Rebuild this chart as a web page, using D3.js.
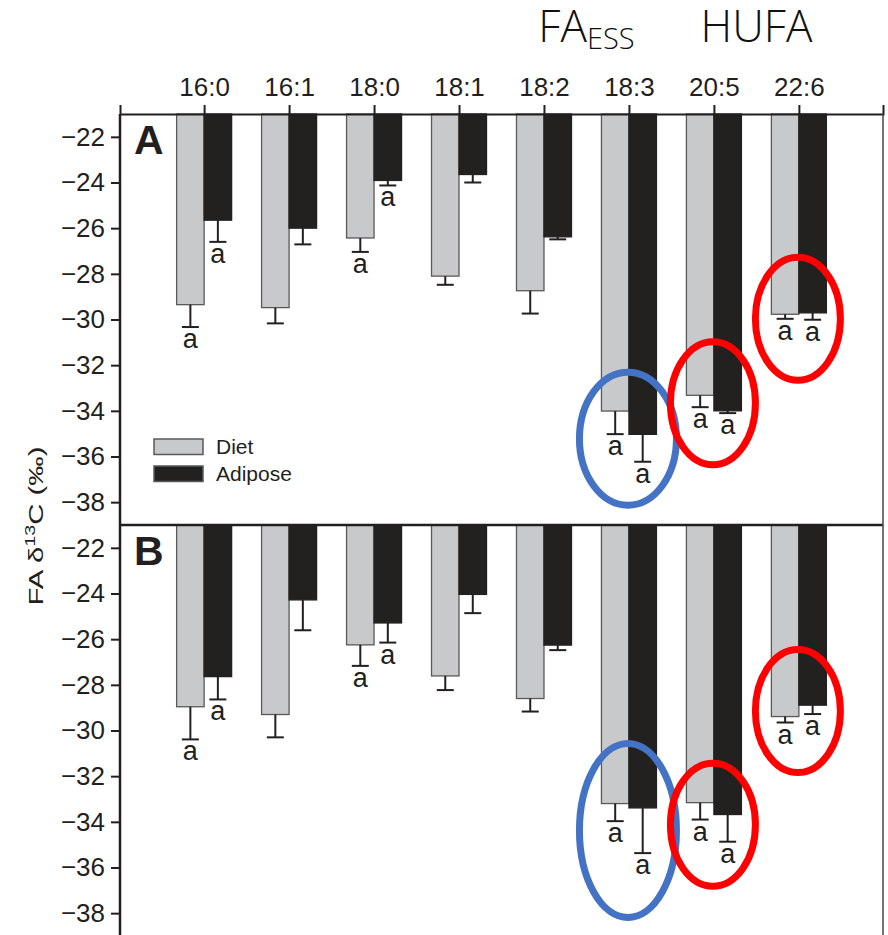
<!DOCTYPE html>
<html>
<head>
<meta charset="utf-8">
<script src="https://cdn.jsdelivr.net/npm/d3@7"></script>
<style>
  body { margin: 0; background: #fff; }
  svg { display: block; font-family: "Liberation Sans", Arial, sans-serif; }
</style>
</head>
<body>
<div id="chart"></div>
<script>
// fatty acids along the top
const cats = ['16:0', '16:1', '18:0', '18:1', '18:2', '18:3', '20:5', '22:6']
const series = ['Diet', 'Adipose']

// panel A means and SE
const dietA = [-29.35, -29.48, -26.43, -28.1, -28.74, -34.01, -33.32, -29.77]
const dietSeA = [0.98, 0.69, 0.61, 0.38, 1.0, 1.01, 0.52, 0.2]
const adiA = [-25.65, -26.0, -23.91, -23.65, -26.38, -35.03, -34.0, -29.71]
const adiSeA = [0.95, 0.71, 0.22, 0.35, 0.11, 1.2, 0.1, 0.3]
const lettersA = ['a', '', 'a', '', '', 'a', 'a', 'a']

// panel B means and SE
const dietB = [-28.96, -29.3, -26.25, -27.61, -28.6, -33.2, -33.16, -29.39]
const dietSeB = [1.43, 1.0, 0.92, 0.62, 0.57, 0.77, 0.74, 0.26]
const adiB = [-27.64, -24.28, -25.29, -24.04, -26.26, -33.39, -33.68, -28.89]
const adiSeB = [1.0, 1.33, 0.86, 0.82, 0.22, 1.98, 1.19, 0.39]
const lettersB = ['a', '', 'a', '', '', 'a', 'a', 'a']

const yTicks = [-22, -24, -26, -28, -30, -32, -34, -36, -38]

// highlight rings: category, centre value, colour
const ringsA = [['18:3', -35.22, '#4472c4'], ['20:5', -33.67, '#ff0000'], ['22:6', -29.97, '#ff0000']]
const ringsB = [['18:3', -34.38, '#4472c4'], ['20:5', -34.13, '#ff0000'], ['22:6', -29.15, '#ff0000']]

const width = 888, height = 935
const plotL = 120, plotR = 883, plotT = 114, plotMid = 525
const ink = '#231f20'

const svg = d3.select('#chart').append('svg')
  .attr('width', width)
  .attr('height', height)

const x = d3.scalePoint().domain(cats).range([plotL, plotR]).padding(0.99)
const inner = d3.scaleBand().domain(series).range([-27.5, 27.5])

const yA = d3.scaleLinear().domain([-21, -39]).range([plotT, plotMid])
const yB = d3.scaleLinear().domain([-21, -39]).range([plotMid, plotMid + (plotMid - plotT)])

let drawPanel = (y, diet, dietSe, adi, adiSe, letters, rings, name) => {
  const g = svg.append('g')
  const rows = []
  cats.forEach((c, i) => {
    rows.push({ c, s: 'Diet', v: diet[i], se: dietSe[i], l: letters[i] })
    rows.push({ c, s: 'Adipose', v: adi[i], se: adiSe[i], l: letters[i] })
  })

  g.selectAll('rect.bar')
    .data(rows)
    .enter()
    .append('rect')
    .attr('class', 'bar')
    .attr('x', d => x(d.c) + inner(d.s))
    .attr('y', y(-21))
    .attr('width', inner.bandwidth())
    .attr('height', d => y(d.v) - y(-21))
    .attr('fill', d => d.s === 'Diet' ? '#c8c9cb' : '#232120')
    .attr('stroke', d => d.s === 'Diet' ? '#58595b' : '#232120')
    .attr('stroke-width', 1.3)

  const eb = g.selectAll('g.err')
    .data(rows)
    .enter()
    .append('g')
    .attr('transform', d => `translate(${x(d.c) + inner(d.s) + inner.bandwidth() / 2},0)`)
  eb.append('line')
    .attr('y1', d => y(d.v)).attr('y2', d => y(d.v - d.se))
    .attr('stroke', ink).attr('stroke-width', 2)
  eb.append('line')
    .attr('x1', -8.5).attr('x2', 8.5)
    .attr('y1', d => y(d.v - d.se)).attr('y2', d => y(d.v - d.se))
    .attr('stroke', ink).attr('stroke-width', 2)
  eb.append('text')
    .attr('y', d => y(d.v - d.se) + 21)
    .attr('text-anchor', 'middle')
    .attr('font-size', 27)
    .attr('fill', ink)
    .text(d => d.l)

  // y axis
  const ax = g.append('g')
    .attr('transform', `translate(${plotL},0)`)
    .call(d3.axisLeft(y).tickValues(yTicks).tickSize(9).tickPadding(6))
  ax.select('.domain').remove()
  ax.selectAll('line').attr('stroke', ink).attr('stroke-width', 2)
  ax.selectAll('text').attr('font-size', 26).attr('fill', ink)
    .attr('font-family', '"Liberation Sans", Arial, sans-serif')

  // panel letter
  g.append('text')
    .attr('x', 134)
    .attr('y', y(-21) + 40)
    .attr('font-size', 41)
    .attr('font-weight', 'bold')
    .attr('fill', ink)
    .text(name)

  // rings
  g.selectAll('ellipse')
    .data(rings)
    .enter()
    .append('ellipse')
    .attr('cx', d => x(d[0]) - 1)
    .attr('cy', d => y(d[1]))
    .attr('rx', d => d[2] === '#4472c4' ? 48.5 : 42.5)
    .attr('ry', d => d[2] === '#4472c4' ? (name === 'A' ? 66.5 : 87) : 61.5)
    .attr('fill', 'none')
    .attr('stroke', d => d[2])
    .attr('stroke-width', 7)
}

drawPanel(yA, dietA, dietSeA, adiA, adiSeA, lettersA, ringsA, 'A')
drawPanel(yB, dietB, dietSeB, adiB, adiSeB, lettersB, ringsB, 'B')

// top axis with category labels
const topAx = svg.append('g')
  .attr('transform', `translate(0,${plotT})`)
  .call(d3.axisTop(x).tickSize(9).tickSizeOuter(9).tickPadding(9))
topAx.selectAll('path, line').attr('stroke', ink).attr('stroke-width', 2)
topAx.selectAll('text').attr('font-size', 26).attr('fill', ink)
  .attr('font-family', '"Liberation Sans", Arial, sans-serif')

// frame: left axis line, divider and right edge
svg.append('line').attr('x1', plotL).attr('x2', plotL).attr('y1', plotT).attr('y2', height)
  .attr('stroke', ink).attr('stroke-width', 2.5)
svg.append('line').attr('x1', plotL).attr('x2', plotR).attr('y1', plotMid).attr('y2', plotMid)
  .attr('stroke', ink).attr('stroke-width', 2.5)
svg.append('line').attr('x1', plotR).attr('x2', plotR).attr('y1', plotT).attr('y2', height)
  .attr('stroke', '#444').attr('stroke-width', 1.5)

// legend
const leg = svg.append('g').attr('transform', 'translate(154,439)')
series.forEach((s, i) => {
  leg.append('rect')
    .attr('x', 0).attr('y', i * 27)
    .attr('width', 49).attr('height', 15.5)
    .attr('fill', s === 'Diet' ? '#c8c9cb' : '#232120')
    .attr('stroke', '#58595b').attr('stroke-width', 1.5)
  leg.append('text')
    .attr('x', 62).attr('y', i * 27 + 15)
    .attr('font-size', 21).attr('fill', ink)
    .text(s)
})

// y axis title
const yt = svg.append('text')
  .attr('transform', 'translate(43,526) rotate(-90) scale(1.4,1)')
  .attr('text-anchor', 'middle')
  .attr('font-size', 21)
  .attr('fill', ink)
yt.append('tspan').text('FA δ')
yt.append('tspan').attr('font-size', 14).attr('dy', -8).text('13')
yt.append('tspan').attr('dy', 8).text('C (‰)')

// group headings
const groupFont = '"Open Sans", "Noto Sans", sans-serif'
const fa = svg.append('text')
  .attr('x', (x('18:2') + x('18:3')) / 2)
  .attr('y', 42)
  .attr('text-anchor', 'middle')
  .attr('font-family', groupFont)
  .attr('font-weight', 300)
  .attr('font-size', 44)
  .attr('fill', '#111')
fa.append('tspan').text('FA')
fa.append('tspan').attr('font-size', 29).attr('dy', 7).text('ESS')

svg.append('text')
  .attr('x', (x('20:5') + x('22:6')) / 2)
  .attr('y', 42)
  .attr('text-anchor', 'middle')
  .attr('font-family', groupFont)
  .attr('font-weight', 300)
  .attr('font-size', 44)
  .attr('fill', '#111')
  .text('HUFA')
</script>
</body>
</html>
